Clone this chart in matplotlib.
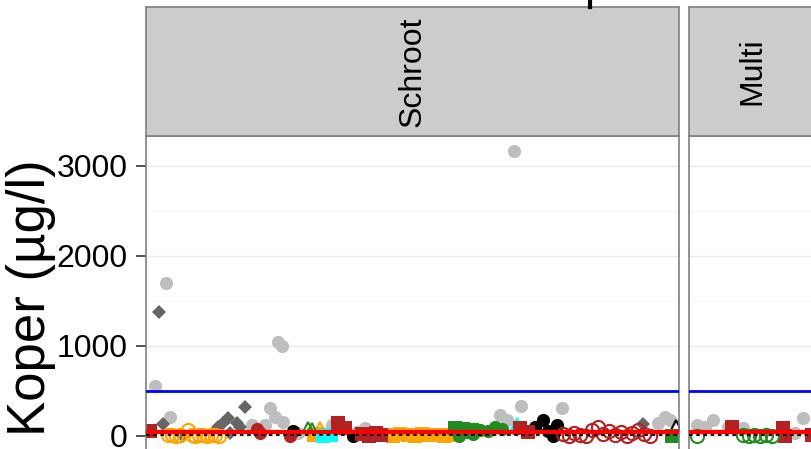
import matplotlib
matplotlib.use("Agg")
import matplotlib.pyplot as plt
from matplotlib.lines import Line2D

plt.rcParams['font.family'] = ['Liberation Sans', 'DejaVu Sans']

# --- data: sample index within facet, copper value (ug/l) ---
# Schroot facet
grey_x = [1.9, 4.1, 5.0, 21.9, 24.6, 25.6, 26.6, 27.2, 28.1, 28.3, 31.4, 38.4,
          43.5, 45.2, 45.6, 73.1, 74.5, 76.0, 77.4, 85.9, 105.7, 107.1, 108.2]
grey_y = [555, 1700, 210, 120, 120, 310, 210, 1045, 1000, 155, 30, 120,
          40, 90, 40, 230, 180, 3167, 330, 310, 140, 210, 170]
dgrey_x = [2.7, 3.5, 7.6, 14.9, 15.9, 16.9, 17.3, 18.8, 19.4, 20.4, 102.6]
dgrey_y = [1378, 130, 0, 100, 140, 200, 30, 140, 100, 320, 130]
orange_open_x = [4.6, 5.4, 6.2, 7.0, 8.6, 9.4, 10.2, 11.0, 11.8, 12.6, 13.4, 14.2, 15.0]
orange_open_y = [5, 10, 0, 10, 60, 5, 0, 10, 5, 0, 10, 5, 0]
orange_sq_x = [34.6, 35.6, 49.5, 51.0, 52.5, 54.0, 55.5, 57.0, 58.5, 60.0, 61.5, 63.0]
orange_sq_y = [10, 20, 10, 0, 20, 10, 0, 15, 5, 10, 0, 10]
orange_tri_x = [35.9]
orange_tri_y = [100]
green_tri_x = [33.4, 34.3]
green_tri_y = [100, 90]
black_tri_x = [64.8, 109.4]
black_tri_y = [90, 120]
green_sq_x = [63.8, 65.5, 67.3, 108.6]
green_sq_y = [90, 80, 60, 0]
green_circ_x = [64.5, 66.0, 67.5, 69.0, 70.5, 72.0, 73.5]
green_circ_y = [0, 40, 20, 60, 50, 100, 70]
cyan_tri_x = [76.6]
cyan_tri_y = [130]
cyan_sq_x = [36.6, 38.2]
cyan_sq_y = [0, 10]
black_circ_x = [30.3, 42.7, 80.3, 81.9, 83.0, 84.0, 84.8]
black_circ_y = [50, 0, 100, 180, 50, 0, 120]
brick_sq_x = [0.8, 39.6, 41.1, 44.5, 46.0, 47.5, 48.5, 77.2, 78.8]
brick_sq_y = [50, 140, 90, 20, 0, 30, 10, 90, 40]
brick_circ_x = [22.9, 23.5, 29.7]
brick_circ_y = [70, 30, 0]
brick_open_x = [86, 87.2, 88.4, 89.6, 90.8, 92, 93.2, 94.4, 95.6, 96.8, 98, 99.2,
                100.4, 101.6, 102.8, 104]
brick_open_y = [20, 0, 30, 10, 0, 60, 100, 20, 50, 10, 40, 0, 30, 60, 20, 0]

# Multi facet
m_grey_x = [1.6, 3.3, 4.9, 8.0, 11.1, 21.7, 23.4]
m_grey_y = [120, 100, 180, 100, 90, 30, 200]
m_brick_sq_x = [8.8, 19.3, 19.7, 25.2]
m_brick_sq_y = [100, 90, 0, 10]
m_green_open_x = [1.6, 11.0, 12.2, 13.4, 14.6, 15.8, 17.0]
m_green_open_y = [0, 10, 0, 5, 0, 10, 0]

# reference levels
blue_level = 500
orange_level = 58
red_level = 40
black_level = 12

facets = ['Schroot', 'Multi']
yticks = [0, 1000, 2000, 3000]

GREY = '#BEBEBE'
DGREY = '#666666'
ORANGE = '#FFA500'
GREEN = '#228B22'
BRICK = '#B22222'
CYAN = '#00FFFF'


def pts(ax, x, y, color, marker, ms=9.5, open_=False, mew=1.5):
    if open_:
        ax.plot(x, y, ls='none', marker=marker, ms=ms, mfc='none', mec=color, mew=mew)
    else:
        ax.plot(x, y, ls='none', marker=marker, ms=ms, mfc=color, mec=color, mew=0)


W, H = 812, 449
fig = plt.figure(figsize=(W / 100, H / 100), dpi=100)

panel_bottom = (H - 450) / H
panel_h = (450 - 136) / H
ax1 = fig.add_axes([146 / W, panel_bottom, 533 / W, panel_h])
ax2 = fig.add_axes([689 / W, panel_bottom, 127 / W, panel_h])

pts(ax1, grey_x, grey_y, GREY, 'o')
pts(ax1, dgrey_x, dgrey_y, DGREY, 'D', ms=7.5)
pts(ax1, orange_open_x, orange_open_y, ORANGE, 'o', open_=True)
pts(ax1, orange_sq_x, orange_sq_y, ORANGE, 's', ms=9.5)
pts(ax1, orange_tri_x, orange_tri_y, ORANGE, '^', ms=7, open_=True)
pts(ax1, green_tri_x, green_tri_y, GREEN, '^', ms=7, open_=True)
pts(ax1, black_tri_x, black_tri_y, 'black', '^', ms=7, open_=True)
pts(ax1, green_sq_x, green_sq_y, GREEN, 's', ms=9.5)
pts(ax1, green_circ_x, green_circ_y, GREEN, 'o')
pts(ax1, cyan_tri_x, cyan_tri_y, CYAN, '^', ms=8, open_=True)
pts(ax1, cyan_sq_x, cyan_sq_y, CYAN, 's', ms=9.5)
pts(ax1, black_circ_x, black_circ_y, 'black', 'o')
pts(ax1, brick_sq_x, brick_sq_y, BRICK, 's', ms=9.5)
pts(ax1, brick_circ_x, brick_circ_y, BRICK, 'o')
pts(ax1, brick_open_x, brick_open_y, BRICK, 'o', open_=True)

pts(ax2, m_grey_x, m_grey_y, GREY, 'o')
pts(ax2, m_brick_sq_x, m_brick_sq_y, BRICK, 's', ms=9.5)
pts(ax2, m_green_open_x, m_green_open_y, GREEN, 'o', open_=True)

for ax, xmax, name in [(ax1, 110, facets[0]), (ax2, 26, facets[1])]:
    ax.set_xlim(0, xmax)
    ax.set_ylim(-158, 3328)
    ax.axhline(blue_level, color='#0000FF', lw=2.0, zorder=5)
    ax.axhline(orange_level, color=ORANGE, lw=1.0, zorder=5)
    ax.axhline(red_level, color='#FF0000', lw=3.0, zorder=6)
    ax.axhline(black_level, color='black', lw=1.3, ls=(0, (2, 2)), zorder=6)
    ax.set_yticks(yticks)
    ax.set_yticks([500, 1500, 2500], minor=True)
    ax.grid(True, which='major', axis='y', color='#EBEBEB', lw=1.0, zorder=0)
    ax.grid(True, which='minor', axis='y', color='#F5F5F5', lw=0.7, zorder=0)
    ax.set_axisbelow(True)
    ax.set_xticks([])
    for s in ax.spines.values():
        s.set_color('#7F7F7F')
        s.set_linewidth(1.2)
    ax.tick_params(axis='y', which='minor', length=0)

    # facet strip
    pos = ax.get_position()
    sax = fig.add_axes([pos.x0, 1 - 136 / H, pos.width, 129 / H])
    sax.set_facecolor('#CCCCCC')
    sax.set_xticks([])
    sax.set_yticks([])
    for s in sax.spines.values():
        s.set_color('#7F7F7F')
        s.set_linewidth(1.2)
    sax.text(0.5, 0.5, name, rotation=90, ha='center', va='center',
             fontsize=23, transform=sax.transAxes)

ax1.tick_params(axis='y', which='major', length=7, width=1.2, color='#333333',
                labelsize=23, pad=6)
ax2.tick_params(axis='y', which='both', length=0, labelleft=False)

fig.text(31 / W, 1 - 298 / H, 'Koper (µg/l)', rotation=90, ha='center', va='center',
         fontsize=38)

# fragment of a cut-off element above the strips
fig.add_artist(Line2D([590 / W, 590 / W], [1.0, 1 - 7 / H], color='black', lw=3))

fig.savefig('out.png', dpi=100)
